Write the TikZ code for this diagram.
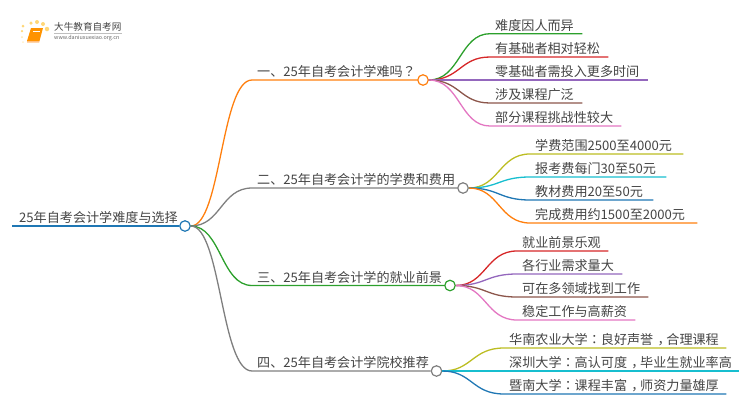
\documentclass[tikz,border=0pt]{standalone}
\usepackage{fontspec}
\usepackage{xcolor}
\setmainfont{Noto Sans CJK SC}
\newfontfamily\tcfont{Noto Sans CJK TC}
\newcommand{\midcomma}{\kern.33em ，\kern-.33em}
\usetikzlibrary{positioning}
\definecolor{cblue}{HTML}{1F77B4}
\definecolor{corange}{HTML}{FF7F0E}
\definecolor{cgreen}{HTML}{2CA02C}
\definecolor{cred}{HTML}{D62728}
\definecolor{cpurple}{HTML}{9467BD}
\definecolor{cbrown}{HTML}{8C564B}
\definecolor{cpink}{HTML}{E377C2}
\definecolor{cgrey}{HTML}{7F7F7F}
\definecolor{colive}{HTML}{BCBD22}
\definecolor{ccyan}{HTML}{17BECF}
\definecolor{ctext}{HTML}{444444}
\definecolor{cdot}{HTML}{FFD778}
\tikzset{
	topic/.style={anchor=south west, inner xsep=5pt, inner ysep=1pt, align=left, text=ctext,
		font=\fontsize{13.1}{15}\selectfont, text height=11pt, text depth=2pt},
	hub/.style={circle, fill=white, line width=1.2pt, inner sep=0pt, minimum size=10.5pt},
	link/.style={line width=1.3pt},
	logodot/.style={circle, fill=cdot, inner sep=0pt}
}

\begin{document}
\begin{tikzpicture}[x=1pt, y=-1pt]
	\useasboundingbox (0,0) rectangle (750,410);

	% logo
	\node[logodot, minimum size=3pt] (d1) at (23,26) {};
	\node[logodot, minimum size=3.5pt] (d2) at (31,23) {};
	\node[logodot, minimum size=4pt] (d3) at (37,22) {};
	\node[logodot, minimum size=4pt] (d4) at (43,24) {};
	\node[logodot, minimum size=4.5pt] (d5) at (47,29) {};
	\node[logodot, minimum size=2.5pt] (d6) at (22,31) {};
	\node[logodot, minimum size=2pt, opacity=.6] (d7) at (22,37) {};
	\node[logodot, minimum size=2pt, opacity=.4] (d8) at (23,42) {};
	\fill[orange!85!yellow] (31,28) -- (43,28) -- (39.5,41) -- (27,41) -- cycle;
	\fill[orange!50!white] (27,41) -- (39.5,41) -- (39.2,42.5) -- (27,42.5) -- cycle;
	\draw[white, line width=.5pt] (33,31) -- (40,31);
	\node[anchor=west, inner sep=0pt, text=ctext, font=\fontsize{9.6}{10}\selectfont] (logoname) at (54,27) {大牛教育自考网};
	\draw[black!25, line width=.4pt] (54,33) -- (122,33);
	\node[anchor=west, inner sep=0pt, text=black!60, font=\fontsize{5.4}{6}\selectfont] (logourl) at (54,38.5) {www.daniuxuexiao.org.cn};

	% root
	\node[topic, inner xsep=7pt, text width=160pt] (root) at (12,226) {25年自考会计学难度与选择};
	\node[hub, draw=cblue] (h0) at (185,226) {};
	\draw[cblue, line width=1.8pt] (root.south west) -- (h0);

	% branches
	\node[topic, text width=156pt] (b1) at (252,80) {一、25年自考会计学难吗{\tcfont ？}};
	\node[hub, draw=corange] (h1) at (423,80) {};
	\node[topic, text width=196pt] (b2) at (252,188) {二、25年自考会计学的学费和费用};
	\node[hub, draw=cgrey] (h2) at (463,188) {};
	\node[topic, text width=183pt] (b3) at (252,285.5) {三、25年自考会计学的就业前景};
	\node[hub, draw=cgreen] (h3) at (450,285.5) {};
	\node[topic, text width=170pt] (b4) at (252,371) {四、25年自考会计学院校推荐};
	\node[hub, draw=cgrey] (h4) at (436.5,371) {};

	\draw[link, corange] (h0.east) .. controls (221,226) and (221,80) .. (b1.south west) -- (h1);
	\draw[link, cgrey] (h0.east) .. controls (221,226) and (221,188) .. (b2.south west) -- (h2);
	\draw[link, cgreen] (h0.east) .. controls (221,226) and (221,285.5) .. (b3.south west) -- (h3);
	\draw[link, cgrey] (h0.east) .. controls (221,226) and (221,371) .. (b4.south west) -- (h4);

	% leaves of the first branch
	\node[topic, text width=82pt] (l11) at (490,33.7) {难度因人而异};
	\node[topic, text width=108pt] (l12) at (490,57) {有基础者相对轻松};
	\node[topic, text width=148pt] (l13) at (490,80) {零基础者需投入更多时间};
	\node[topic, text width=82pt] (l14) at (490,103) {涉及课程广泛};
	\node[topic, text width=121pt] (l15) at (490,126) {部分课程挑战性较大};
	\draw[link, cgreen] (h1.east) .. controls (460,80) and (460,33.7) .. (l11.south west) -- (l11.south east);
	\draw[link, cred] (h1.east) .. controls (460,80) and (460,57) .. (l12.south west) -- (l12.south east);
	\draw[link, cpurple] (h1.east) -- (l13.south west) -- (l13.south east);
	\draw[link, cbrown] (h1.east) .. controls (460,80) and (460,103) .. (l14.south west) -- (l14.south east);
	\draw[link, cpink] (h1.east) .. controls (460,80) and (460,126) .. (l15.south west) -- (l15.south east);

	% leaves of the second branch
	\node[topic, text width=143pt] (l21) at (530,154) {学费范围2500至4000元};
	\node[topic, text width=126pt] (l22) at (530,177) {报考费每门30至50元};
	\node[topic, text width=113pt] (l23) at (530,200) {教材费用20至50元};
	\node[topic, text width=157pt] (l24) at (530,223) {完成费用约1500至2000元};
	\draw[link, colive] (h2.east) .. controls (499,188) and (499,154) .. (l21.south west) -- (l21.south east);
	\draw[link, ccyan] (h2.east) .. controls (499,188) and (499,177) .. (l22.south west) -- (l22.south east);
	\draw[link, cblue] (h2.east) .. controls (499,188) and (499,200) .. (l23.south west) -- (l23.south east);
	\draw[link, corange] (h2.east) .. controls (499,188) and (499,223) .. (l24.south west) -- (l24.south east);

	% leaves of the third branch
	\node[topic, text width=81pt] (l31) at (517,251) {就业前景乐观};
	\node[topic, text width=95pt] (l32) at (517,274) {各行业需求量大};
	\node[topic, text width=121pt] (l33) at (517,297) {可在多领域找到工作};
	\node[topic, text width=108pt] (l34) at (517,320) {稳定工作与高薪资};
	\draw[link, cred] (h3.east) .. controls (486,285.5) and (486,251) .. (l31.south west) -- (l31.south east);
	\draw[link, cpurple] (h3.east) .. controls (486,285.5) and (486,274) .. (l32.south west) -- (l32.south east);
	\draw[link, cbrown] (h3.east) .. controls (486,285.5) and (486,297) .. (l33.south west) -- (l33.south east);
	\draw[link, cpink] (h3.east) .. controls (486,285.5) and (486,320) .. (l34.south west) -- (l34.south east);

	% leaves of the fourth branch
	\node[topic, text width=212pt] (l41) at (504,348) {华南农业大学{\tcfont ：}良好声誉\midcomma 合理课程};
	\node[topic, text width=225pt] (l42) at (504,371) {深圳大学{\tcfont ：}高认可度\midcomma 毕业生就业率高};
	\node[topic, text width=212pt] (l43) at (504,394) {暨南大学{\tcfont ：}课程丰富\midcomma 师资力量雄厚};
	\draw[link, colive] (h4.east) .. controls (472,371) and (472,348) .. (l41.south west) -- (l41.south east);
	\draw[link, ccyan] (h4.east) -- (l42.south west) -- (l42.south east);
	\draw[link, cblue] (h4.east) .. controls (472,371) and (472,394) .. (l43.south west) -- (l43.south east);
\end{tikzpicture}
\end{document}
